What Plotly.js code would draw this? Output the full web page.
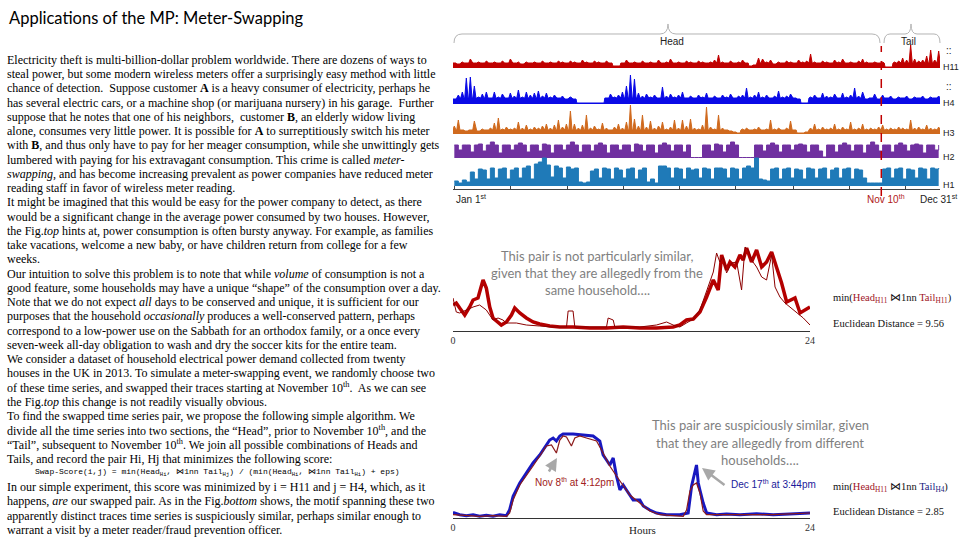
<!DOCTYPE html>
<html><head><meta charset="utf-8">
<script src="https://cdn.plot.ly/plotly-3.0.1.min.js"></script>
<style>html,body{margin:0;padding:0;background:#fff}#chart{width:960px;height:540px}</style>
</head><body><div id="chart"></div>
<script>
// ---------- Top panel: yearly traces (sampled every 3 days) ----------
const H11 = [5,4,6,5,9,5,6,5,7,5, 6,5,7,5,9,5,6,4,6,5, 6,5,7,5,6,5,7,6,5,7, 6,5,8,6,5,7,6,5,7,5,
  2,2,5,8,5,6,5,7,5,6, 5,8,5,6,9,5,6,5,7,6, 5,7,6,5,6,8,13,6,5,7, 5,6,8,5,2,3,10,9,6,8,
  4,6,5,7,6,5,8,6,7,14, 6,5,7,6,5,8,6,9,5,6, 5,7,9,6,5,6,5,6,1,1, 6,7,10,8,23,9,7,8,12,18, 8,17];
const H4 = [5,9,12,26,27,18,7,10,12,6, 12,7,10,6,11,8,14,7,12,9, 11,13,8,11,7,9,6,8,5,7, 5,1,1,1,1,1,1,1,6,10,
  7,9,12,18,29,25,11,8,10,7, 9,6,17,8,10,7,9,12,6,8, 6,9,7,11,6,8,6,9,7,10, 6,8,9,16,7,9,12,7,9,6,
  8,13,7,8,10,6,5,1,1,7, 9,6,11,8,7,10,6,11,7,9, 16,8,12,5,6,10,5,9,6,8, 5,7,6,8,5,7,6,8,5,7, 6,8];
const H3 = [8,14,4,3,4,13,3,5,4,6, 11,16,5,7,5,6,12,6,9,5, 7,6,8,10,6,9,14,7,10,23, 10,6,9,19,6,8,5,11,6,4,
  7,10,6,12,29,15,8,19,7,13, 6,8,12,5,7,14,6,14,8,15, 6,5,9,27,7,5,19,6,4,3, 2,1,5,6,4,5,7,4,5,14,
  5,6,4,6,13,4,1,1,2,6, 10,5,7,5,6,10,5,7,5,12, 5,6,10,5,6,5,7,9,5,6, 5,7,6,5,14,6,7,5,9,6, 5,7];
const H2 = [13,8,13,13,6,13,14,7,13,16, 13,5,13,13,8,13,15,13,6,13, 13,7,14,13,5,13,13,8,13,16, 13,6,13,13,7,13,15,13,5,13,
  13,8,13,13,6,14,13,7,13,13, 5,13,15,13,7,13,13,6,13,0.5, 0.5,0.5,13,13,7,14,13,6,13,16, 13,0.5,0.5,0.5,0.5,13,13,7,13,15,
  13,6,13,13,8,13,14,13,6,13, 13,7,1,13,13,6,13,15,13,7, 13,13,5,13,16,13,7,13,13,6, 13,15,13,7,13,14,13,5,13,13, 8,13];
const H1 = [5,3,6,4,14,7,17,16,7,18, 8,17,18,7,16,18,8,18,20,7, 22,24,28,21,9,20,18,8,19,17, 18,4,3,4,15,17,8,18,17,7,
  18,16,8,17,18,7,16,18,4,7, 3,20,20,18,8,18,17,7,18,16, 17,8,18,17,7,18,18,17,8,18, 17,7,18,20,18,28,7,6,5,17,
  18,7,17,18,8,17,16,7,18,17, 8,17,18,7,16,18,8,17,18,7, 17,16,8,3,3,3,3,17,18,8, 17,18,7,17,16,8,18,17,7,18, 17,18];
const seriesNames = ['H11','H4','H3','H2','H1'];
const bandLevels = [5, 6, 4, null, null];   // solid band under the needles
const swapDay = 320;                       // November 10th
const topTickDays = [0,42,85,127,169,211,254,296,338];
const topDateDays = [0, 320, 363];
const topDateText = ['Jan 1<sup>st</sup>','Nov 10<sup>th</sup>','Dec 31<sup>st</sup>'];

// ---------- Middle panel: H11 head vs H11 tail (hours) ----------
const midHeadHours = [0,0.22,0.45,0.79,1.12,1.35,1.68,1.91,2.02,2.24, 2.47,2.69,3.03,3.25,3.59,3.93,4.15,4.49,4.93,5.38,
  5.83,6.50,7.18,8.07,9.20,10.32,11.44,12.56,13.68,14.80, 15.25,15.70,16.15,16.60,17.05,17.50,17.83,18.06,18.39,18.62,
  18.95,19.29,19.51,19.74,20.07,20.41,20.75,21.08,21.42,21.76, 22.09,22.43,22.77,22.99,23.33,23.66,24];
const midHeadVals = [26,28,23,16,24,31,33,44,51,43, 24,13,9,6,9,16,23,18,13,9, 7,5,4,4,3,3,4,3,3,4,
  6,11,12,19,34,51,41,76,61,69, 64,76,71,83,69,81,64,69,79,64, 48,29,31,33,18,21,24];
const midTailHours = [0,0.22,0.45,0.90,1.35,1.79,2.24,2.69,3.03,3.36, 3.59,4.26,4.93,5.83,6.73,7.63,7.74,8.07,8.19,9.20,
  10.32,10.43,10.77,10.88,12.56,13.68,14.36,14.80,15.25,15.70, 16.15,16.60,17.05,17.50,17.72,17.94,18.17,18.39,18.73,19.07,
  19.40,19.63,19.85,20.07,20.41,20.75,21.08,21.42,21.65,21.98, 22.32,22.65,23.10,23.55,24];
const midTailVals = [33,19,18,21,24,26,21,11,13,11, 8,8,6,5,4,4,20,20,4,4, 4,13,11,4,4,6,9,6,4,8,
  12,21,41,59,78,69,74,58,68,69, 41,84,81,71,64,54,51,76,44,34, 28,24,19,13,6];

// ---------- Bottom panel: H4 tail (blue) vs H11 head (red) ----------
const botBlueHours = [0,0.45,0.90,1.35,1.79,2.24,2.69,3.14,3.59,3.81, 4.04,4.49,4.93,5.38,5.83,6.28,6.50,6.73,6.95,7.18,
  7.40,8.07,8.75,9.42,9.87,10.09,10.32,10.54,10.77,10.99, 11.22,11.44,11.66,12.11,12.56,12.79,13.23,13.68,14.36,14.80,
  15.25,15.81,16.04,16.37,16.49,16.60,16.82,17.05,17.72,18.39, 19.29,20.41,21.53,22.65,24];
const botBlueVals = [5.7,3.3,2.3,3.3,1.7,2.7,1.7,3.3,2.3,8.3, 21.7,35,45,55,63,73,78,80,77,82,
  84,84,83,82,77,63,58,53,60,42, 28,33,28,18,18,12,8,5,3.3,3.3, 3.3,5,32,53,35,28,15,5,3.3,4, 3.3,4.3,3.3,4,5];
const botRedHours = [0,0.90,1.79,2.69,3.59,3.81,4.04,4.49,4.93,5.38, 5.83,6.28,6.62,6.84,6.95,7.18,7.40,7.63,7.96,8.19,
  8.52,8.97,9.65,10.09,10.54,10.99,11.44,11.89,12.56,13.23, 13.91,14.80,15.48,15.70,15.93,16.15,16.37,16.60,16.82,17.05,
  18.17,19.29,21.53,24];
const botRedVals = [3.3,2.3,1.7,2.3,1.7,5,18,33,43,52, 62,72,73,67,65,78,82,81,72,80,
  82,80,77,65,52,42,32,23,15,7, 3.3,2.3,1.7,8,27,33,35,25,7,3.3, 3.3,4,3.3,5];
const hourTicks = [0, 24];

// ---------- Body text ----------
const formulaLine = 'Swap-Score(i,j) = min(Head<sub>Hi</sub>, ⋈1nn Tail<sub>Hj</sub>) / (min(Head<sub>Hi</sub>, ⋈1nn Tail<sub>Hi</sub>) + eps)';
const bodyLines = [
"Electricity theft is multi-billion-dollar problem worldwide. There are dozens of ways to",
"steal power, but some modern wireless meters offer a surprisingly easy method with little",
"chance of detection.  Suppose customer <b>A</b> is a heavy consumer of electricity, perhaps he",
"has several electric cars, or a machine shop (or marijuana nursery) in his garage.  Further",
"suppose that he notes that one of his neighbors,  customer <b>B</b>, an elderly widow living",
"alone, consumes very little power. It is possible for <b>A</b> to surreptitiously switch his meter",
"with <b>B</b>, and thus only have to pay for her meager consumption, while she unwittingly gets",
"lumbered with paying for his extravagant consumption. This crime is called <i>meter-</i>",
"<i>swapping</i>, and has become increasing prevalent as power companies have reduced meter",
"reading staff in favor of wireless meter reading.",
"It might be imagined that this would be easy for the power company to detect, as there",
"would be a significant change in the average power consumed by two houses. However,",
"the Fig.<i>top</i> hints at, power consumption is often bursty anyway. For example, as families",
"take vacations, welcome a new baby, or have children return from college for a few",
"weeks.",
"Our intuition to solve this problem is to note that while <i>volume</i> of consumption is not a",
"good feature, some households may have a unique “shape” of the consumption over a day.",
"Note that we do not expect <i>all</i> days to be conserved and unique, it is sufficient for our",
"purposes that the household <i>occasionally</i> produces a well-conserved pattern, perhaps",
"correspond to a low-power use on the Sabbath for an orthodox family, or a once every",
"seven-week all-day obligation to wash and dry the soccer kits for the entire team.",
"We consider a dataset of household electrical power demand collected from twenty",
"houses in the UK in 2013. To simulate a meter-swapping event, we randomly choose two",
"of these time series, and swapped their traces starting at November 10<sup>th</sup>.  As we can see",
"the Fig.<i>top</i> this change is not readily visually obvious.",
"To find the swapped time series pair, we propose the following simple algorithm. We",
"divide all the time series into two sections, the “Head”, prior to November 10<sup>th</sup>, and the",
"“Tail”, subsequent to November 10<sup>th</sup>. We join all possible combinations of Heads and",
"Tails, and record the pair Hi, Hj that minimizes the following score:",
null,
"In our simple experiment, this score was minimized by i = H11 and j = H4, which, as it",
"happens, <i>are</i> our swapped pair. As in the Fig.<i>bottom</i> shows, the motif spanning these two",
"apparently distinct traces time series is suspiciously similar, perhaps similar enough to",
"warrant a visit by a meter reader/fraud prevention officer."
];

// ---------- Layout helpers ----------
const W = 960, Hh = 540;
const px = x => x / W, py = y => 1 - y / Hh;
const SERIF = 'Liberation Serif, Times New Roman, serif';
const SANS = 'Liberation Sans, Arial, sans-serif';
const GRAY = 'Lato, Open Sans, sans-serif';

const topSeries = [
  {vals: H11, color: '#c00000', base: 68,  shape: 'linear'},
  {vals: H4,  color: '#0a0ae6', base: 104, shape: 'linear'},
  {vals: H3,  color: '#d06a1e', base: 134, shape: 'linear'},
  {vals: H2,  color: '#7030a0', base: 158, shape: 'hv'},
  {vals: H1,  color: '#1f7ab8', base: 186, shape: 'hv'}
];

const traces = [];
const layout = {
  width: W, height: Hh, margin: {l: 0, r: 0, t: 0, b: 0},
  paper_bgcolor: '#fff', plot_bgcolor: 'rgba(0,0,0,0)', showlegend: false,
  annotations: [], shapes: []
};
const ann = o => layout.annotations.push(Object.assign({xref: 'paper', yref: 'paper', xanchor: 'center',
  yanchor: 'middle', showarrow: false}, o));

topSeries.forEach((s, k) => {
  const ya = k === 0 ? 'y' : 'y' + (k + 1);
  const yaKey = k === 0 ? 'yaxis' : 'yaxis' + (k + 1);
  let xs = [], ys = [];
  const band = bandLevels[k];
  s.vals.forEach((v, i) => {
    if (band === null) { xs.push(i * 3); ys.push(v); }
    else { const b = Math.min(v, band); xs.push(i * 3 - 1.2, i * 3, i * 3 + 1.2); ys.push(b, v, b); }
  });
  traces.push({x: xs, y: ys, xaxis: 'x', yaxis: ya, mode: 'lines', name: seriesNames[k],
    line: {color: s.color, width: 1, shape: s.shape}, fill: 'tozeroy', fillcolor: s.color, hoverinfo: 'skip'});
  layout[yaKey] = {domain: [py(s.base), py(s.base - 30)], range: [0, 30], anchor: 'x', visible: false, fixedrange: true};
  ann({yref: ya, x: px(941), y: 1, xanchor: 'left', text: seriesNames[k], font: {family: SANS, size: 9, color: '#222'}});
  if (k < 2) ann({yref: ya, x: px(944), y: 18, xanchor: 'left', text: '::', font: {family: SANS, size: 10, color: '#222'}});
});
layout.xaxis = {domain: [px(453), px(940)], range: [-1, 364], anchor: 'free', position: py(189),
  showline: true, linecolor: '#444', linewidth: 1, ticks: 'inside', ticklen: 3, tickcolor: '#444',
  tickvals: topTickDays, showticklabels: false, showgrid: false, zeroline: false, fixedrange: true};

topDateDays.forEach((d, i) => {
  ann({xref: 'x', x: d, y: py(199), xanchor: i === 0 ? 'left' : 'center', xshift: i === 1 ? 5 : 0,
    text: topDateText[i], font: {family: SANS, size: 10, color: i === 1 ? '#b01818' : '#222'}});
});

// swap line
layout.shapes.push({type: 'line', xref: 'x', yref: 'paper', x0: swapDay, x1: swapDay, y0: py(196), y1: py(46),
  line: {color: '#c00000', width: 1.5, dash: 'dash'}});
// brackets
const P = (x, y) => px(x).toFixed(5) + ',' + py(y).toFixed(5);
layout.shapes.push({type: 'path', xref: 'paper', yref: 'paper', line: {color: '#b4b4b4', width: 1},
  path: `M${P(454,43)} Q${P(454,34)} ${P(462,34)} L${P(660,34)} Q${P(668,34)} ${P(668,24)} Q${P(668,34)} ${P(676,34)} L${P(872,34)} Q${P(880,34)} ${P(880,43)}`});
layout.shapes.push({type: 'path', xref: 'paper', yref: 'paper', line: {color: '#b4b4b4', width: 1},
  path: `M${P(884,43)} Q${P(884,34)} ${P(890,34)} L${P(905,34)} Q${P(911,34)} ${P(911,24)} Q${P(911,34)} ${P(917,34)} L${P(934,34)} Q${P(940,34)} ${P(940,43)}`});
ann({x: px(672), y: py(41), text: 'Head', font: {family: SANS, size: 10, color: '#222'}});
ann({x: px(908), y: py(41), text: 'Tail', font: {family: SANS, size: 10, color: '#222'}});

// ---------- Middle & bottom panels ----------
traces.push({x: midHeadHours, y: midHeadVals, xaxis: 'x2', yaxis: 'y6', mode: 'lines',
  line: {color: '#b40000', width: 3.5}, hoverinfo: 'skip'});
traces.push({x: midTailHours, y: midTailVals, xaxis: 'x2', yaxis: 'y6', mode: 'lines',
  line: {color: '#8b0000', width: 1}, hoverinfo: 'skip'});
traces.push({x: botBlueHours, y: botBlueVals, xaxis: 'x3', yaxis: 'y7', mode: 'lines',
  line: {color: '#1818c0', width: 3}, hoverinfo: 'skip'});
traces.push({x: botRedHours, y: botRedVals, xaxis: 'x3', yaxis: 'y7', mode: 'lines',
  line: {color: '#8b1a1a', width: 1.2}, hoverinfo: 'skip'});

const hourAxis = anchor => ({domain: [px(453), px(810)], range: [0, 24], anchor: anchor,
  showline: true, linecolor: '#333', linewidth: 1, ticks: 'inside', ticklen: 4, tickcolor: '#333',
  tickvals: hourTicks, ticktext: hourTicks.map(String), tickfont: {family: SERIF, size: 10, color: '#333'},
  showgrid: false, zeroline: false, fixedrange: true});
layout.xaxis2 = hourAxis('y6');
layout.xaxis3 = hourAxis('y7');
layout.yaxis6 = {domain: [py(331), py(231)], range: [0, 100], anchor: 'x2', visible: false, fixedrange: true};
layout.yaxis7 = {domain: [py(518), py(418)], range: [0, 100], anchor: 'x3', visible: false, fixedrange: true};

ann({x: px(642), y: py(530), text: 'Hours', font: {family: SERIF, size: 11, color: '#222'}});

// gray comments
const midNote = ['This pair is not particularly similar,', 'given that they are allegedly from the', 'same household….'];
const botNote = ['This pair are suspiciously similar, given', 'that they are allegedly from different', 'households….'];
midNote.forEach((t, i) => ann({x: px(597), y: py(256 + 17 * i), text: t, font: {family: GRAY, size: 13, color: '#7f7f7f'}}));
botNote.forEach((t, i) => ann({x: px(760), y: py(425 + 17.5 * i), text: t, font: {family: GRAY, size: 13, color: '#7f7f7f'}}));

// arrows + labels
ann({xref: 'x3', yref: 'y7', x: 6.99, y: 60, ax: -9, ay: 15, text: '', showarrow: true,
  arrowhead: 2, arrowsize: 1, arrowwidth: 2.5, arrowcolor: '#a8a8a8'});
ann({xref: 'x3', yref: 'y7', x: 16.74, y: 50, ax: 24, ay: 18, text: '', showarrow: true,
  arrowhead: 2, arrowsize: 1, arrowwidth: 2.5, arrowcolor: '#a8a8a8'});
ann({x: px(574), y: py(482), text: 'Nov 8<sup>th</sup> at 4:12pm', font: {family: SANS, size: 10, color: '#a02020'}});
ann({x: px(773), y: py(484), text: 'Dec 17<sup>th</sup> at 3:44pm', font: {family: SANS, size: 10, color: '#1a1a9a'}});

// formulas on the right
const red = s => `<span style="color:#a0141e">${s}</span>`;
const navy = s => `<span style="color:#1a1a80">${s}</span>`;
const rightText = [
  {y: 298, t: `min(${red('Head<sub>H11</sub>')} ⋈1nn ${red('Tail<sub>H11</sub>')})`},
  {y: 323, t: 'Euclidean Distance = 9.56'},
  {y: 487, t: `min(${red('Head<sub>H11</sub>')} ⋈1nn ${navy('Tail<sub>H4</sub>')})`},
  {y: 511, t: 'Euclidean Distance = 2.85'}
];
rightText.forEach(r => ann({x: px(831), y: py(r.y), xanchor: 'left', text: r.t,
  font: {family: SERIF, size: 10.5, color: '#111'}}));

// title + body
ann({x: px(7), y: py(18), xanchor: 'left', text: 'Applications of the MP: Meter-Swapping',
  font: {family: GRAY, size: 16.5, color: '#000'}});
bodyLines.forEach((t, k) => {
  const y = py(60 + 14.24 * k);
  if (t === null) {
    ann({x: px(33), y: y, xanchor: 'left', text: formulaLine,
      font: {family: 'Liberation Mono, Courier New, monospace', size: 8, color: '#000'}});
  } else {
    ann({x: px(5), y: y, xanchor: 'left', text: t, font: {family: SERIF, size: 12, color: '#000'}});
  }
});

Plotly.newPlot('chart', traces, layout, {staticPlot: true, displayModeBar: false});
</script></body></html>
